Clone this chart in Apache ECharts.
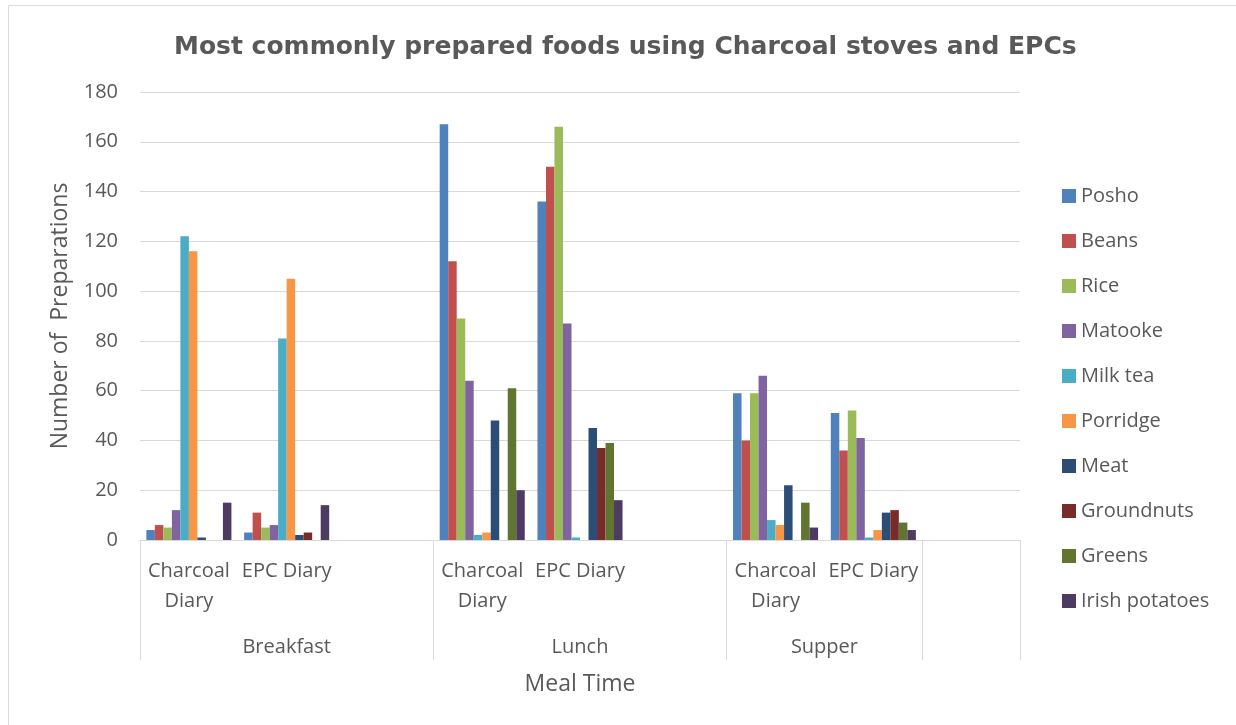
<!DOCTYPE html>
<html>
<head>
<meta charset="utf-8">
<script src="https://cdn.jsdelivr.net/npm/echarts@6/dist/echarts.min.js"></script>
<style>
  html, body { margin: 0; padding: 0; background: #fff; }
  #chart { width: 1236px; height: 725px; }
</style>
</head>
<body>
<div id="chart"></div>
<script>
// Sub-categories (diary type) along the x axis; blank slots separate meal groups
const categories = ['Charcoal\nDiary', 'EPC Diary', '', 'Charcoal\nDiary', 'EPC Diary', '', 'Charcoal\nDiary', 'EPC Diary', ''];
// Meal groups: name, first slot, slot count
const groupNames = ['Breakfast', 'Lunch', 'Supper', ''];
const groupStarts = [0, 3, 6, 8];
const groupSizes = [3, 3, 2, 1];

const foods = ['Posho', 'Beans', 'Rice', 'Matooke', 'Milk tea', 'Porridge', 'Meat', 'Groundnuts', 'Greens', 'Irish potatoes'];
const colors = ['#4F81BD', '#C0504D', '#9BBB59', '#8064A2', '#4BACC6', '#F79646', '#2C4D75', '#772C2A', '#5F7530', '#4D3B62'];

// Preparations per food, in slot order (null = empty slot)
const posho     = [4, 3, null, 167, 136, null, 59, 51, null];
const beans     = [6, 11, null, 112, 150, null, 40, 36, null];
const rice      = [5, 5, null, 89, 166, null, 59, 52, null];
const matooke   = [12, 6, null, 64, 87, null, 66, 41, null];
const milkTea   = [122, 81, null, 2, 1, null, 8, 1, null];
const porridge  = [116, 105, null, 3, 0, null, 6, 4, null];
const meat      = [1, 2, null, 48, 45, null, 22, 11, null];
const groundnuts= [0, 3, null, 0, 37, null, 0, 12, null];
const greens    = [0, 0, null, 61, 39, null, 15, 7, null];
const irishPot  = [15, 14, null, 20, 16, null, 5, 4, null];

const yTicks = { min: 0, max: 180, interval: 20 };

const seriesValues = [posho, beans, rice, matooke, milkTea, porridge, meat, groundnuts, greens, irishPot];

const textColor = '#595959';
const gridColor = '#D9D9D9';
const font = '"Open Sans", sans-serif';

// Group boundaries and label centres on a 0..9 slot scale
const boundaries = groupStarts.concat([groupStarts[groupStarts.length - 1] + groupSizes[groupSizes.length - 1]]);
const centres = groupStarts.map((s, i) => s + groupSizes[i] / 2);

const chart = echarts.init(document.getElementById('chart'), null, { renderer: 'canvas' });

chart.setOption({
  animation: false,
  backgroundColor: '#fff',
  title: {
    text: 'Most commonly prepared foods using Charcoal stoves and EPCs',
    left: 169,
    top: 30,
    textStyle: {
      fontFamily: '"DejaVu Sans", sans-serif',
      fontWeight: 'bold',
      fontSize: 25,
      color: textColor
    }
  },
  graphic: [{
    type: 'rect',
    shape: { x: 8.5, y: 5.5, width: 1240, height: 730 },
    style: { fill: 'none', stroke: gridColor, lineWidth: 1 },
    silent: true
  }],
  legend: {
    orient: 'vertical',
    left: 1062,
    top: 186,
    padding: 0,
    icon: 'rect',
    itemWidth: 14,
    itemHeight: 14,
    itemGap: 25,
    textStyle: { fontFamily: font, fontSize: 20, color: textColor },
    data: foods
  },
  grid: { left: 140, right: 216, top: 92, bottom: 185 },
  xAxis: [{
    type: 'category',
    data: categories,
    position: 'bottom',
    axisLine: { lineStyle: { color: gridColor, width: 1 } },
    axisTick: { show: false },
    axisLabel: {
      interval: 0,
      margin: 16,
      fontFamily: font,
      fontSize: 20,
      lineHeight: 30,
      color: textColor
    },
    name: 'Meal Time',
    nameLocation: 'middle',
    nameGap: 133,
    nameTextStyle: { fontFamily: font, fontSize: 23, color: textColor }
  }, {
    type: 'value',
    position: 'bottom',
    min: 0,
    max: categories.length,
    axisLine: { show: false },
    splitLine: { show: false },
    axisTick: {
      show: true,
      customValues: boundaries,
      length: 120,
      lineStyle: { color: gridColor, width: 1 }
    },
    axisLabel: {
      customValues: centres,
      margin: 97,
      fontFamily: font,
      fontSize: 20,
      color: textColor,
      formatter: function (v) {
        const i = centres.indexOf(v);
        return i >= 0 ? groupNames[i] : '';
      }
    }
  }],
  yAxis: {
    type: 'value',
    min: yTicks.min,
    max: yTicks.max,
    interval: yTicks.interval,
    axisLine: { show: false },
    axisTick: { show: false },
    splitLine: { lineStyle: { color: gridColor, width: 1 } },
    axisLabel: { margin: 22, fontFamily: font, fontSize: 20, color: textColor },
    name: 'Number of  Preparations',
    nameLocation: 'middle',
    nameRotate: 90,
    nameGap: 68,
    nameTextStyle: { fontFamily: font, fontSize: 23, color: textColor }
  },
  series: foods.map((name, i) => ({
    name: name,
    type: 'bar',
    xAxisIndex: 0,
    data: seriesValues[i],
    barGap: '0%',
    barCategoryGap: '13%',
    itemStyle: { color: colors[i] }
  }))
});
</script>
</body>
</html>
